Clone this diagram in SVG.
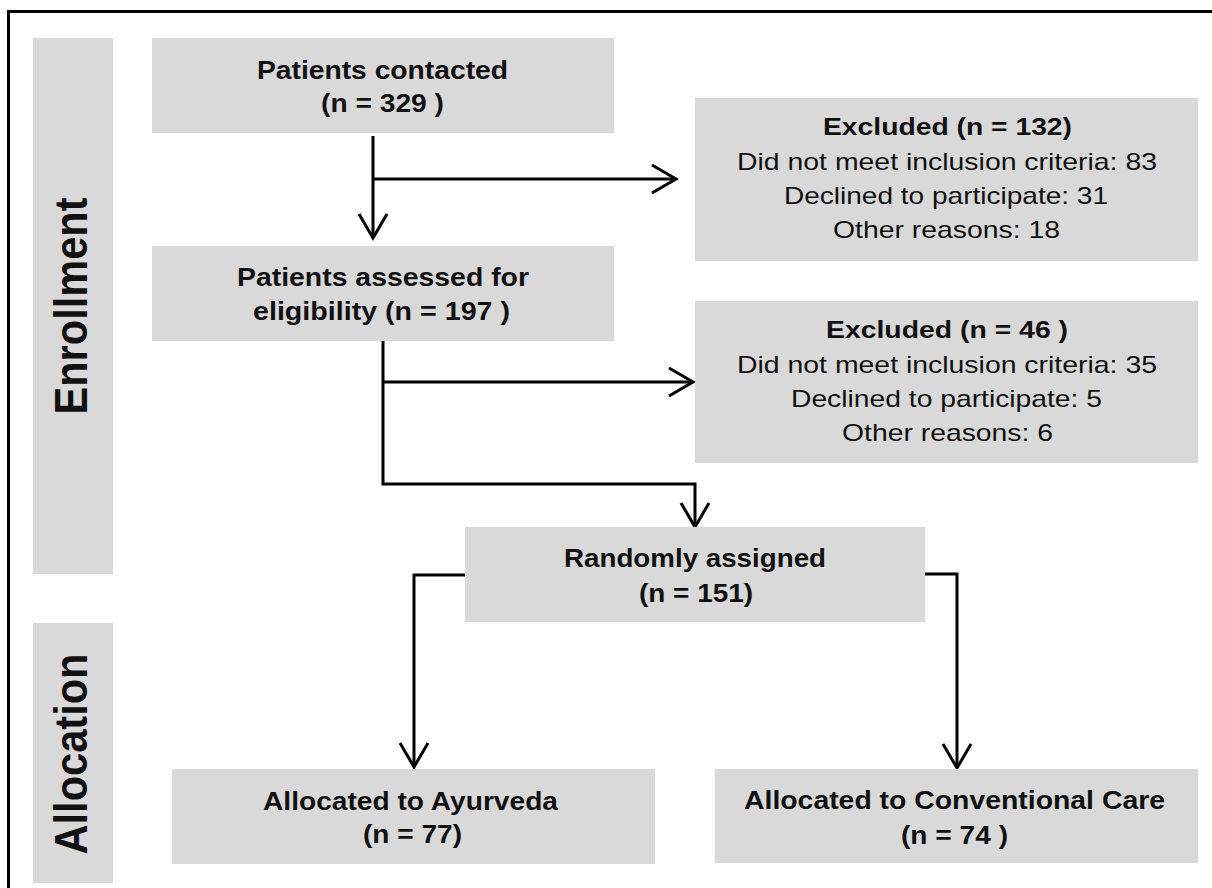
<svg xmlns="http://www.w3.org/2000/svg" width="1212" height="888" viewBox="0 0 1212 888">
  <defs>
    <style>
      .box { fill: #d9d9d9; }
      .bar { fill: #d9d9d9; }
      .t { font-family: "Liberation Sans", Arial, sans-serif; fill: #111; text-anchor: middle; }
      .b { font-weight: bold; }
      .m { font-size: 26px; }
      .s { font-size: 24px; }
      .side { font-family: "Liberation Sans", Arial, sans-serif; font-weight: bold; font-size: 47px; fill: #111; text-anchor: middle; }
      .con { fill: none; stroke: #000; stroke-width: 3; }
      .frame { fill: none; stroke: #000; stroke-width: 3; }
    </style>
    <marker id="arr" markerUnits="userSpaceOnUse" viewBox="0 0 26 30" refX="24" refY="15" markerWidth="26" markerHeight="30" orient="auto" overflow="visible">
      <path d="M0,1 L24,15 L0,29" fill="none" stroke="#000" stroke-width="3"/>
    </marker>
  </defs>

  <rect x="0" y="0" width="1212" height="888" fill="#ffffff"/>
  <polyline class="frame" points="8.5,888 8.5,11.5 1212,11.5"/>

  <g id="phase-enrollment">
    <rect class="bar" x="33" y="38" width="80" height="536"/>
    <text class="side" transform="translate(87,306) rotate(-90)" textLength="217" lengthAdjust="spacingAndGlyphs">Enrollment</text>
  </g>
  <g id="phase-allocation">
    <rect class="bar" x="33" y="623" width="80" height="260"/>
    <text class="side" transform="translate(87,754) rotate(-90)" textLength="201" lengthAdjust="spacingAndGlyphs">Allocation</text>
  </g>

  <g id="connectors">
    <path class="con" d="M373,136 L373,238" marker-end="url(#arr)"/>
    <path class="con" d="M373,179 L676,179" marker-end="url(#arr)"/>
    <path class="con" d="M383,341 L383,484 L695,484 L695,527" marker-end="url(#arr)"/>
    <path class="con" d="M383,382 L693,382" marker-end="url(#arr)"/>
    <path class="con" d="M465,575 L414,575 L414,767" marker-end="url(#arr)"/>
    <path class="con" d="M925,574 L957,574 L957,768" marker-end="url(#arr)"/>
  </g>

  <g id="node-contacted">
    <rect class="box" x="152" y="38" width="462" height="95"/>
    <text class="t b m" x="382.5" y="79" textLength="251" lengthAdjust="spacingAndGlyphs">Patients contacted</text>
    <text class="t b m" x="382.5" y="112" textLength="123" lengthAdjust="spacingAndGlyphs">(n = 329 )</text>
  </g>

  <g id="node-assessed">
    <rect class="box" x="152" y="246" width="462" height="95"/>
    <text class="t b m" x="383" y="286" textLength="292" lengthAdjust="spacingAndGlyphs">Patients assessed for</text>
    <text class="t b m" x="381.5" y="320" textLength="257" lengthAdjust="spacingAndGlyphs">eligibility (n = 197 )</text>
  </g>

  <g id="node-excluded-1">
    <rect class="box" x="695" y="98" width="503" height="163"/>
    <text class="t b s" x="947.5" y="135" textLength="249" lengthAdjust="spacingAndGlyphs">Excluded (n = 132)</text>
    <text class="t s" x="947" y="170" textLength="420" lengthAdjust="spacingAndGlyphs">Did not meet inclusion criteria: 83</text>
    <text class="t s" x="946" y="204" textLength="324" lengthAdjust="spacingAndGlyphs">Declined to participate: 31</text>
    <text class="t s" x="946.5" y="238" textLength="227" lengthAdjust="spacingAndGlyphs">Other reasons: 18</text>
  </g>

  <g id="node-excluded-2">
    <rect class="box" x="695" y="301" width="503" height="162"/>
    <text class="t b s" x="947" y="338" textLength="242" lengthAdjust="spacingAndGlyphs">Excluded (n = 46 )</text>
    <text class="t s" x="947" y="373" textLength="420" lengthAdjust="spacingAndGlyphs">Did not meet inclusion criteria: 35</text>
    <text class="t s" x="946.5" y="407" textLength="311" lengthAdjust="spacingAndGlyphs">Declined to participate: 5</text>
    <text class="t s" x="947.5" y="441" textLength="211" lengthAdjust="spacingAndGlyphs">Other reasons: 6</text>
  </g>

  <g id="node-randomized">
    <rect class="box" x="465" y="527" width="460" height="95"/>
    <text class="t b m" x="695" y="567" textLength="262" lengthAdjust="spacingAndGlyphs">Randomly assigned</text>
    <text class="t b m" x="696" y="602" textLength="114" lengthAdjust="spacingAndGlyphs">(n = 151)</text>
  </g>

  <g id="node-ayurveda">
    <rect class="box" x="172" y="769" width="483" height="95"/>
    <text class="t b m" x="410.5" y="810" textLength="295" lengthAdjust="spacingAndGlyphs">Allocated to Ayurveda</text>
    <text class="t b m" x="412.5" y="843" textLength="99" lengthAdjust="spacingAndGlyphs">(n = 77)</text>
  </g>

  <g id="node-conventional">
    <rect class="box" x="715" y="769" width="483" height="94"/>
    <text class="t b m" x="954.5" y="809" textLength="421" lengthAdjust="spacingAndGlyphs">Allocated to Conventional Care</text>
    <text class="t b m" x="954.5" y="844" textLength="107" lengthAdjust="spacingAndGlyphs">(n = 74 )</text>
  </g>
</svg>
